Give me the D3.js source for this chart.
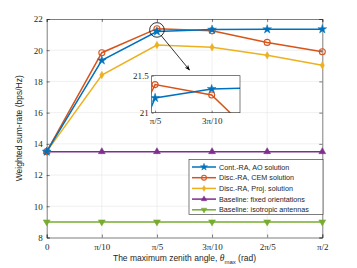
<!DOCTYPE html>
<html>
<head>
<meta charset="utf-8">
<script src="https://cdn.jsdelivr.net/npm/d3@7"></script>
<style>
  body { margin: 0; background: #fff; }
  svg { display: block; }
  .tick text { font-family: "Liberation Serif", "DejaVu Serif", serif; font-size: 9px; fill: #262626; }
  .lbl { font-family: "Liberation Sans", Arial, sans-serif; font-size: 8.5px; fill: #262626; }
  .leg { font-family: "Liberation Sans", Arial, sans-serif; font-size: 7.2px; fill: #262626; }
</style>
</head>
<body>
<svg id="chart"></svg>
<script>
// x positions in units of pi/10
const xVals = [0, 1, 2, 3, 4, 5];
const xTickLabels = ["0", "π/10", "π/5", "3π/10", "2π/5", "π/2"];
const yTicks = [8, 10, 12, 14, 16, 18, 20, 22];

const aoVals    = [13.5, 19.35, 21.2, 21.32, 21.34, 21.35];
const cemVals   = [13.5, 19.84, 21.38, 21.24, 20.5, 19.9];
const projVals  = [13.5, 18.41, 20.33, 20.19, 19.67, 19.03];
const fixedVals = [13.5, 13.5, 13.5, 13.5, 13.5, 13.5];
const isoVals   = [9.0, 9.0, 9.0, 9.0, 9.0, 9.0];

const seriesNames = ["Cont.-RA, AO solution", "Disc.-RA, CEM solution", "Disc.-RA, Proj. solution",
                     "Baseline: fixed orientations", "Baseline: isotropic antennas"];
const seriesColors = ["#0072BD", "#D95319", "#EDB120", "#7E2F8E", "#77AC30"];
const seriesMarkers = ["star", "circle", "diamond", "triUp", "triDown"];
const allVals = [aoVals, cemVals, projVals, fixedVals, isoVals];

const W = 357, H = 268;
const mL = 46.7, mR = 322.3, mT = 19, mB = 237.5;

const svg = d3.select("#chart").attr("width", W).attr("height", H);

const x = d3.scaleLinear().domain([0, 5]).range([mL, mR]);
const y = d3.scaleLinear().domain([8, 22]).range([mB, mT]);

// grid
const grid = svg.append("g");
grid.selectAll(".gx").data(xVals.slice(1, -1)).enter().append("line")
  .attr("x1", d => x(d)).attr("x2", d => x(d)).attr("y1", mT).attr("y2", mB)
  .attr("stroke", "#e6e6e6").attr("stroke-width", 0.6);
grid.selectAll(".gy").data(yTicks.slice(1, -1)).enter().append("line")
  .attr("x1", mL).attr("x2", mR).attr("y1", d => y(d)).attr("y2", d => y(d))
  .attr("stroke", "#e6e6e6").attr("stroke-width", 0.6);

// axes
const xAxis = svg.append("g").attr("transform", `translate(0,${mB})`)
  .call(d3.axisBottom(x).tickValues(xVals).tickFormat((d, i) => xTickLabels[i]).tickSize(-3).tickPadding(6));
const yAxis = svg.append("g").attr("transform", `translate(${mL},0)`)
  .call(d3.axisLeft(y).tickValues(yTicks).tickSize(-3).tickPadding(4));
// top and right box
svg.append("g").attr("transform", `translate(0,${mT})`)
  .call(d3.axisTop(x).tickValues(xVals).tickFormat("").tickSize(-3));
svg.append("g").attr("transform", `translate(${mR},0)`)
  .call(d3.axisRight(y).tickValues(yTicks).tickFormat("").tickSize(-3));
svg.selectAll(".domain").attr("stroke", "#262626").attr("stroke-width", 0.6);
svg.selectAll(".tick line").attr("stroke", "#262626").attr("stroke-width", 0.6);
xAxis.selectAll(".tick text").attr("dy", "0.71em");

// marker drawing
function marker(g, type, cx, cy, color, s) {
  if (type === "circle") {
    g.append("circle").attr("cx", cx).attr("cy", cy).attr("r", s * 0.75)
      .attr("fill", "none").attr("stroke", color).attr("stroke-width", 1.1);
  } else {
    let sym;
    if (type === "star") sym = d3.symbol().type(d3.symbolStar).size(s * s * 1.5);
    else if (type === "diamond") sym = d3.symbol().type(d3.symbolDiamond).size(s * s * 1.0);
    else sym = d3.symbol().type(d3.symbolTriangle).size(s * s * 1.3);
    const rot = type === "triDown" ? 180 : 0;
    g.append("path").attr("d", sym())
      .attr("transform", `translate(${cx},${cy}) rotate(${rot})`)
      .attr("fill", color).attr("stroke", color).attr("stroke-width", 0.5);
  }
}

function drawSeries(g, xs, ys, s) {
  // draw in reverse so blue is on top
  for (let k = allVals.length - 1; k >= 0; k--) {
    const ln = d3.line().x((d, i) => xs(xVals[i])).y(d => ys(d));
    g.append("path").datum(allVals[k]).attr("d", ln)
      .attr("fill", "none").attr("stroke", seriesColors[k]).attr("stroke-width", 1.5);
    allVals[k].forEach((v, i) => marker(g, seriesMarkers[k], xs(xVals[i]), ys(v), seriesColors[k], s));
  }
}

drawSeries(svg.append("g"), x, y, 4);

// zoom circle and arrow
svg.append("circle").attr("cx", x(2)).attr("cy", y(21.3)).attr("r", 7.3)
  .attr("fill", "none").attr("stroke", "#000").attr("stroke-width", 0.8);
svg.append("defs").append("marker").attr("id", "arr").attr("viewBox", "0 0 10 10")
  .attr("refX", 9).attr("refY", 5).attr("markerWidth", 7).attr("markerHeight", 7)
  .attr("orient", "auto").append("path").attr("d", "M0,1 L10,5 L0,9 L3,5 Z").attr("fill", "#000");
svg.append("line").attr("x1", 160.7).attr("y1", 35).attr("x2", 189.5).attr("y2", 70)
  .attr("stroke", "#000").attr("stroke-width", 0.8).attr("marker-end", "url(#arr)");

// inset
const iL = 151.7, iR = 240, iT = 75.7, iB = 112.7;
const ix = d3.scaleLinear().domain([1.94, 3.5]).range([iL, iR]);
const iy = d3.scaleLinear().domain([21, 21.5]).range([iB, iT]);
svg.append("rect").attr("x", iL).attr("y", iT).attr("width", iR - iL).attr("height", iB - iT)
  .attr("fill", "#fff");
svg.append("clipPath").attr("id", "iclip").append("rect")
  .attr("x", iL).attr("y", iT).attr("width", iR - iL).attr("height", iB - iT);
const inset = svg.append("g");
inset.append("g").selectAll("line").data([2, 3]).enter().append("line")
  .attr("x1", d => ix(d)).attr("x2", d => ix(d)).attr("y1", iT).attr("y2", iB)
  .attr("stroke", "#e6e6e6").attr("stroke-width", 0.6);
drawSeries(inset.append("g").attr("clip-path", "url(#iclip)"), ix, iy, 4);
inset.append("rect").attr("x", iL).attr("y", iT).attr("width", iR - iL).attr("height", iB - iT)
  .attr("fill", "none").attr("stroke", "#262626").attr("stroke-width", 0.6);
const ixa = inset.append("g").attr("transform", `translate(0,${iB})`)
  .call(d3.axisBottom(ix).tickValues([2, 3]).tickFormat((d, i) => ["π/5", "3π/10"][i]).tickSize(-2).tickPadding(5));
const iya = inset.append("g").attr("transform", `translate(${iL},0)`)
  .call(d3.axisLeft(iy).tickValues([21, 21.5]).tickFormat(d => d).tickSize(-2).tickPadding(3));
inset.selectAll(".domain").remove();
inset.selectAll(".tick line").attr("stroke", "#262626").attr("stroke-width", 0.6);
ixa.selectAll(".tick text").attr("dy", "0.71em");

// legend
const lg = svg.append("g");
const lgX = 189, lgY = 159.3, lgW = 134, lgH = 55;
lg.append("rect").attr("x", lgX).attr("y", lgY).attr("width", lgW).attr("height", lgH)
  .attr("fill", "#fff").attr("stroke", "#262626").attr("stroke-width", 0.6);
seriesNames.forEach((name, k) => {
  const yy = lgY + 7.7 + k * 10.7;
  lg.append("line").attr("x1", lgX + 3).attr("x2", lgX + 27).attr("y1", yy).attr("y2", yy)
    .attr("stroke", seriesColors[k]).attr("stroke-width", 1.5);
  marker(lg, seriesMarkers[k], lgX + 15, yy, seriesColors[k], 3.2);
  lg.append("text").attr("class", "leg").attr("x", lgX + 30).attr("y", yy).attr("dy", "0.35em").text(name);
});

// axis labels
svg.append("text").attr("class", "lbl")
  .attr("transform", `translate(22,${(mT + mB) / 2}) rotate(-90)`)
  .attr("text-anchor", "middle").text("Weighted sum-rate (bps/Hz)");
const xl = svg.append("text").attr("class", "lbl").attr("x", (mL + mR) / 2).attr("y", 261)
  .attr("text-anchor", "middle");
xl.append("tspan").text("The maximum zenith angle, ");
xl.append("tspan").attr("font-family", "Liberation Serif, serif").attr("font-style", "italic").attr("font-size", "9.5px").text("θ");
xl.append("tspan").attr("font-size", "6px").attr("dy", "2.5").text("max");
xl.append("tspan").attr("dy", "-2.5").text("  (rad)");
</script>
</body>
</html>
